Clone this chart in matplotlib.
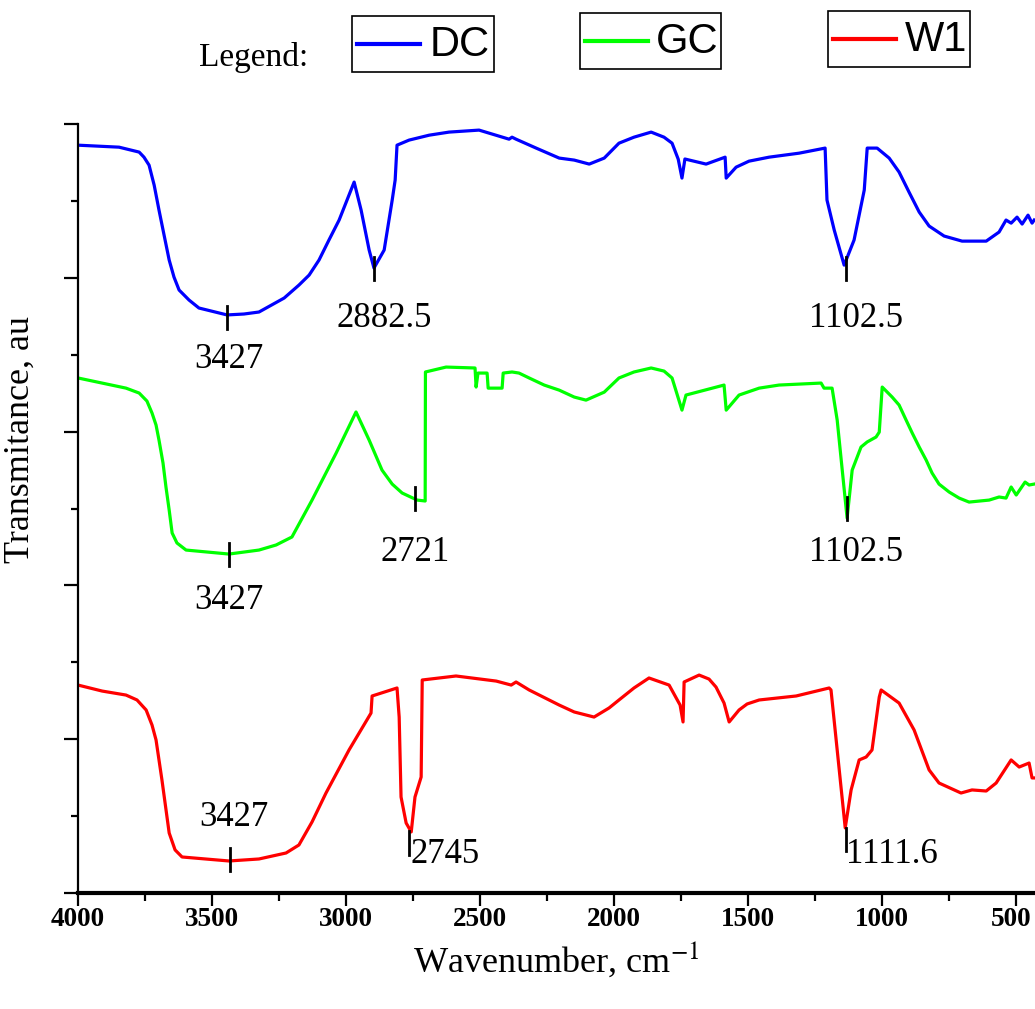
import matplotlib
matplotlib.use("Agg")
import matplotlib.pyplot as plt
from matplotlib.patches import Rectangle
from matplotlib.lines import Line2D
from matplotlib.ticker import MultipleLocator
from matplotlib.transforms import ScaledTranslation

plt.rcParams['font.family'] = ['Liberation Serif', 'DejaVu Serif']
plt.rcParams['mathtext.fontset'] = 'stix'

# series names / colours
names = ['DC', 'GC', 'W1']
colors = ['#0000ff', '#00ff00', '#ff0000']

# DC spectrum (wavenumber, offset transmittance)
dc_wn = [4000, 3847, 3772, 3754, 3735, 3716, 3698, 3679, 3660, 3642, 3623, 3586,
         3549, 3444, 3381, 3325, 3231, 3176, 3138, 3101, 3064, 3026, 2970, 2944,
         2914, 2896, 2858, 2828, 2817, 2810, 2765, 2690, 2616, 2504, 2392, 2381,
         2366, 2291, 2205, 2149, 2093, 2037, 1982, 1926, 1862, 1814, 1784, 1761,
         1747, 1736, 1657, 1586, 1582, 1545, 1497, 1422, 1310, 1213, 1206, 1179,
         1142, 1105, 1067, 1056, 1019, 974, 937, 900, 862, 825, 769, 702, 612,
         564, 538, 519, 497, 478, 456, 441, 433]
dc_t = [4.863, 4.850, 4.818, 4.785, 4.733, 4.603, 4.441, 4.278, 4.116, 4.005, 3.921, 3.856,
        3.804, 3.759, 3.765, 3.778, 3.869, 3.953, 4.018, 4.116, 4.246, 4.376, 4.623, 4.441,
        4.181, 4.064, 4.181, 4.506, 4.636, 4.863, 4.896, 4.928, 4.948, 4.961, 4.902, 4.915,
        4.902, 4.844, 4.779, 4.766, 4.740, 4.779, 4.876, 4.915, 4.948, 4.915, 4.876, 4.772,
        4.649, 4.773, 4.740, 4.785, 4.649, 4.720, 4.759, 4.785, 4.811, 4.844, 4.506, 4.311,
        4.083, 4.246, 4.571, 4.844, 4.844, 4.779, 4.688, 4.558, 4.428, 4.337, 4.272, 4.239,
        4.239, 4.298, 4.376, 4.356, 4.395, 4.350, 4.408, 4.356, 4.376]

# GC spectrum
gc_wn = [4000, 3821, 3772, 3743, 3724, 3709, 3698, 3683, 3672, 3660, 3649, 3631,
         3597, 3437, 3325, 3261, 3202, 3127, 3037, 2963, 2914, 2866, 2828, 2791,
         2735, 2705, 2704, 2627, 2519, 2515, 2508, 2474, 2470, 2418, 2414, 2381,
         2355, 2317, 2261, 2205, 2149, 2105, 2037, 1982, 1926, 1862, 1814, 1784,
         1747, 1732, 1590, 1582, 1534, 1459, 1385, 1228, 1217, 1187, 1168, 1131,
         1112, 1079, 1056, 1023, 1011, 1000, 963, 937, 911, 888, 862, 836, 814,
         788, 750, 713, 676, 601, 564, 538, 519, 500, 467, 452, 433]
gc_t = [3.349, 3.283, 3.251, 3.199, 3.121, 3.043, 2.945, 2.796, 2.640, 2.490, 2.341, 2.276,
        2.230, 2.204, 2.230, 2.263, 2.315, 2.555, 2.861, 3.128, 2.945, 2.750, 2.659, 2.601,
        2.555, 2.549, 3.388, 3.420, 3.414, 3.290, 3.381, 3.381, 3.283, 3.283, 3.381, 3.388,
        3.381, 3.349, 3.303, 3.270, 3.225, 3.205, 3.257, 3.349, 3.388, 3.414, 3.394, 3.349,
        3.140, 3.238, 3.303, 3.140, 3.238, 3.283, 3.303, 3.316, 3.283, 3.283, 3.076, 2.438,
        2.750, 2.900, 2.933, 2.965, 2.997, 3.290, 3.225, 3.173, 3.076, 2.991, 2.900, 2.815, 2.731,
        2.659, 2.607, 2.568, 2.542, 2.555, 2.575, 2.568, 2.640, 2.588, 2.672, 2.653, 2.659]

# W1 spectrum
w1_wn = [4000, 3910, 3821, 3780, 3746, 3724, 3709, 3687, 3660, 3638, 3612, 3437,
         3325, 3224, 3176, 3127, 3075, 2989, 2907, 2903, 2810, 2802, 2795, 2776,
         2757, 2743, 2720, 2716, 2590, 2440, 2384, 2366, 2317, 2205, 2149, 2075,
         2019, 1982, 1926, 1870, 1795, 1754, 1743, 1739, 1683, 1646, 1620, 1590,
         1571, 1534, 1504, 1459, 1321, 1198, 1191, 1138, 1116, 1086, 1060, 1038,
         1011, 1004, 937, 881, 825, 788, 706, 665, 612, 575, 519, 489, 452, 441, 433]
w1_t = [1.352, 1.313, 1.287, 1.255, 1.190, 1.092, 0.995, 0.735, 0.390, 0.280, 0.234, 0.208,
        0.221, 0.260, 0.312, 0.462, 0.650, 0.930, 1.170, 1.281, 1.333, 1.144, 0.624, 0.455,
        0.397, 0.624, 0.754, 1.385, 1.411, 1.378, 1.352, 1.372, 1.320, 1.222, 1.177, 1.144,
        1.203, 1.255, 1.333, 1.398, 1.352, 1.222, 1.112, 1.372, 1.417, 1.391, 1.339, 1.235,
        1.112, 1.190, 1.229, 1.255, 1.281, 1.333, 1.320, 0.423, 0.670, 0.865, 0.884, 0.930,
        1.274, 1.320, 1.235, 1.060, 0.800, 0.715, 0.650, 0.670, 0.663, 0.715, 0.865, 0.819,
        0.845, 0.748, 0.748]

# peak labels: text, marker position, text position
peak_text = ['3427', '2882.5', '1102.5', '3427', '2721', '1102.5', '3427', '2745', '1111.6']
peak_x = [3444, 2896, 1135, 3437, 2743, 1131, 3433, 2765, 1135]
peak_y = [3.745, 4.064, 4.064, 2.204, 2.568, 2.503, 0.215, 0.325, 0.345]
label_x = [3437, 2858, 1097, 3437, 2743, 1097, 3418, 2631, 963]
label_y = [3.466, 3.739, 3.739, 1.905, 2.217, 2.217, 0.494, 0.247, 0.247]

xticks = [4000, 3500, 3000, 2500, 2000, 1500, 1000, 500]

fig = plt.figure(figsize=(10.35, 10.09), dpi=100)
ax = fig.add_axes([0.0754, 0.115, 0.9246, 0.762])

series = [(dc_wn, dc_t), (gc_wn, gc_t), (w1_wn, w1_t)]
for (wn, t), c, n in zip(series, colors, names):
    ax.plot(wn, t, color=c, lw=2.3, label=n, solid_joinstyle='round')

for px, py, tx, lx, ly in zip(peak_x, peak_y, peak_text, label_x, label_y):
    ax.plot([px, px], [py - 0.075, py + 0.075], color='black', lw=2)
    ax.text(lx, ly, tx, fontsize=25, ha='center', va='center')

ax.set_xlim(4000, 430)
ax.set_ylim(0, 5)
ax.set_xticks(xticks)
ax.xaxis.set_minor_locator(MultipleLocator(250))
ax.yaxis.set_major_locator(MultipleLocator(1))
ax.yaxis.set_minor_locator(MultipleLocator(0.5))
ax.set_yticklabels([])

ax.spines['top'].set_visible(False)
ax.spines['right'].set_visible(False)
ax.spines['left'].set_linewidth(1.6)
ax.spines['bottom'].set_linewidth(3)
ax.tick_params(axis='x', which='major', length=9, width=1.6, pad=1)
ax.tick_params(axis='x', which='minor', length=6, width=1.6)
ax.tick_params(axis='y', which='major', length=10, width=1.6)
ax.tick_params(axis='y', which='minor', length=5, width=1.6)

for lab in ax.get_xticklabels():
    lab.set_fontweight('bold')
    lab.set_fontsize(19.5)
# pull the last label (500) a little left so it stays inside the figure
last = ax.xaxis.get_major_ticks()[-1].label1
last.set_transform(last.get_transform() + ScaledTranslation(-0.05, 0, fig.dpi_scale_trans))

ax.set_xlabel('Wavenumber, cm$^{-1}$', fontsize=26, labelpad=6)
ax.set_ylabel('Transmitance, au', fontsize=26)
ax.yaxis.set_label_coords(-0.043, 0.59)

# legend drawn as three separate boxes along the top
fig.text(0.245, 0.943, 'Legend:', fontsize=24, ha='center', va='center')
box_x = [0.340, 0.560, 0.800]
box_y = [0.929, 0.932, 0.934]
for bx, by, c, n in zip(box_x, box_y, colors, names):
    fig.add_artist(Rectangle((bx, by), 0.137, 0.0555, transform=fig.transFigure,
                             fill=False, edgecolor='black', lw=1.2))
    fig.add_artist(Line2D([bx + 0.005, bx + 0.066], [by + 0.027, by + 0.027],
                          transform=fig.transFigure, color=c, lw=3))
    fig.text(bx + 0.104, by + 0.026, n, fontsize=30, ha='center', va='center',
             family='Liberation Sans')

fig.savefig('out.png', dpi=100)
